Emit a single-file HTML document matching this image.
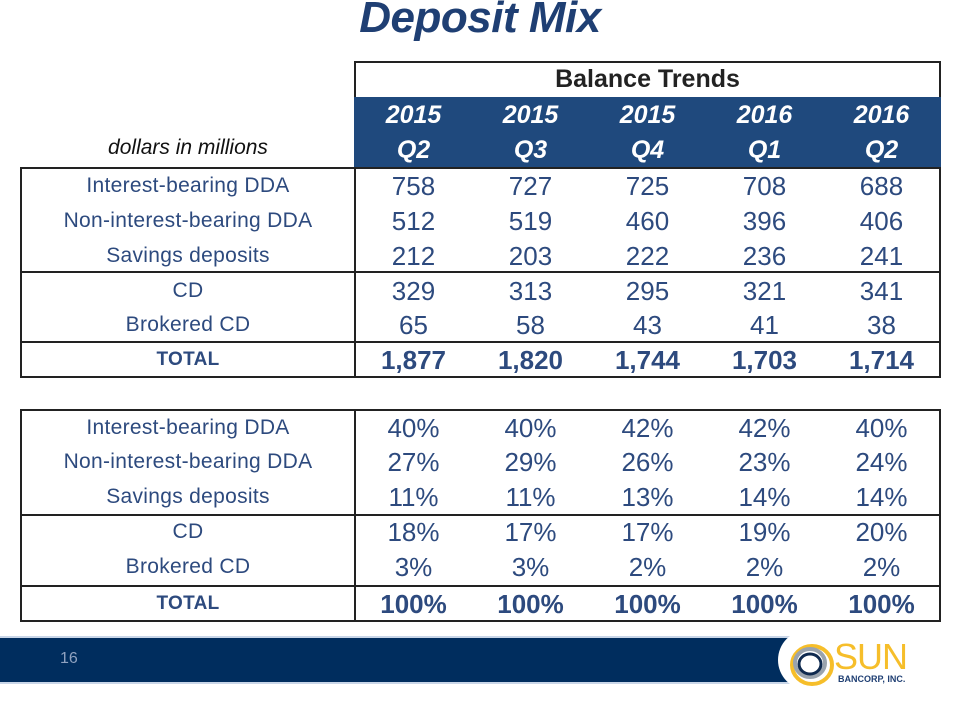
<!DOCTYPE html>
<html><head><meta charset="utf-8">
<style>
body{margin:0;width:960px;height:720px;background:#fff;position:relative;overflow:hidden;font-family:"Liberation Sans",sans-serif}
.a{position:absolute}
.c{text-align:center;color:#2d4a7e;font-size:26px;line-height:34px}
.lbl{font-size:21px;color:#2d4a7e;text-align:center;line-height:34px;letter-spacing:0.3px}
.b{font-weight:bold}
.box{position:absolute;border:2px solid #222;box-sizing:border-box}
.hl{position:absolute;height:2px;background:#222}
.vl{position:absolute;width:2px;background:#222}
</style></head><body>
<div class="a" style="left:0;width:960px;top:-7px;text-align:center;font-size:44px;font-weight:bold;font-style:italic;color:#1f3f73;letter-spacing:-0.5px">Deposit Mix</div>
<div class="box" style="left:354px;top:61px;width:587px;height:38px"></div>
<div class="a" style="left:354px;top:62px;width:587px;text-align:center;font-size:25px;font-weight:bold;line-height:34px;color:#222">Balance Trends</div>
<div class="a" style="left:354px;top:97px;width:587px;height:72px;background:#1f497d"></div>
<div class="a" style="left:21px;width:334px;top:136px;text-align:center;font-size:21px;font-style:italic;color:#111">dollars in millions</div>
<div class="box" style="left:20px;top:167px;width:921px;height:211px"></div>
<div class="box" style="left:20px;top:409px;width:921px;height:213px"></div>
<div class="vl" style="left:354px;top:167px;height:211px"></div>
<div class="vl" style="left:354px;top:409px;height:213px"></div>
<div class="hl" style="left:20px;width:921px;top:271px"></div>
<div class="hl" style="left:20px;width:921px;top:341px"></div>
<div class="hl" style="left:20px;width:921px;top:514px"></div>
<div class="hl" style="left:20px;width:921px;top:585px"></div>
<div class="a" style="left:0;top:636px;width:800px;height:48px;background:#002d5e;border-top:2px solid #c9d6e8;border-bottom:2px solid #c9d6e8;box-sizing:border-box"></div>
<div class="a" style="left:778px;top:630px;width:60px;height:60px;background:#fff;border-radius:50% 0 0 50%"></div>
<div class="a" style="left:60px;top:650px;font-size:16px;color:#8fa2c0">16</div>
<svg class="a" style="left:788px;top:642px" width="48" height="46"><ellipse cx="24" cy="23" rx="20" ry="19" fill="none" stroke="#f6be2a" stroke-width="4"/><ellipse cx="22" cy="21" rx="15" ry="14" fill="none" stroke="#9aa3ad" stroke-width="4"/><ellipse cx="22" cy="22" rx="11" ry="10" fill="none" stroke="#0f2a4f" stroke-width="3"/></svg>
<div class="a" style="left:834px;top:636px;font-size:36px;color:#f6be2a;letter-spacing:-1px">SUN</div>
<div class="a" style="left:838px;top:674px;font-size:9px;font-weight:bold;color:#1f3f73">BANCORP, INC.</div>
<div id="root"></div>
<script>
const years=["2015","2015","2015","2016","2016"];
const quarters=["Q2","Q3","Q4","Q1","Q2"];
const rowLabels=["Interest-bearing DDA","Non-interest-bearing DDA","Savings deposits","CD","Brokered CD","TOTAL"];
const balances=[[758,727,725,708,688],[512,519,460,396,406],[212,203,222,236,241],[329,313,295,321,341],[65,58,43,41,38],[1877,1820,1744,1703,1714]];
const mixPct=[[40,40,42,42,40],[27,29,26,23,24],[11,11,13,14,14],[18,17,17,19,20],[3,3,2,2,2],[100,100,100,100,100]];
const root=document.getElementById('root');
const colX=i=>355+i*117;
const top1=[169,204,239,274,308,343];
const top2=[411,445,480,515,550,587];
function mk(cls,txt,x,y,w,name){const d=document.createElement('div');d.className='a '+cls;d.textContent=txt;d.style.left=x+'px';d.style.top=y+'px';d.style.width=w+'px';


root.appendChild(d);return d;}
years.forEach((y,i)=>{
const d=mk('c b',y+'\n'+quarters[i],colX(i),98,117,'period-header-'+i);d.style.whiteSpace='pre';d.style.color='#fff';d.style.fontStyle='italic';d.style.fontSize='25px';d.style.lineHeight='35px';});
function fmt(v){return v.toLocaleString('en-US');}
function table(vals,tops,suf,pre){
rowLabels.forEach((l,r)=>{const t=r===5;
mk('lbl'+(t?' b':''),l,21,tops[r],334,pre+'-row-label-'+r).style.fontSize=t?'19px':'21px';
vals[r].forEach((v,i)=>{mk('c'+(t?' b':''),fmt(v)+suf,colX(i),tops[r],117,pre+'-value-'+r+'-'+i);});});}
table(balances,top1,'','balance');
table(mixPct,top2,'%','mix');
</script>
</body></html>
